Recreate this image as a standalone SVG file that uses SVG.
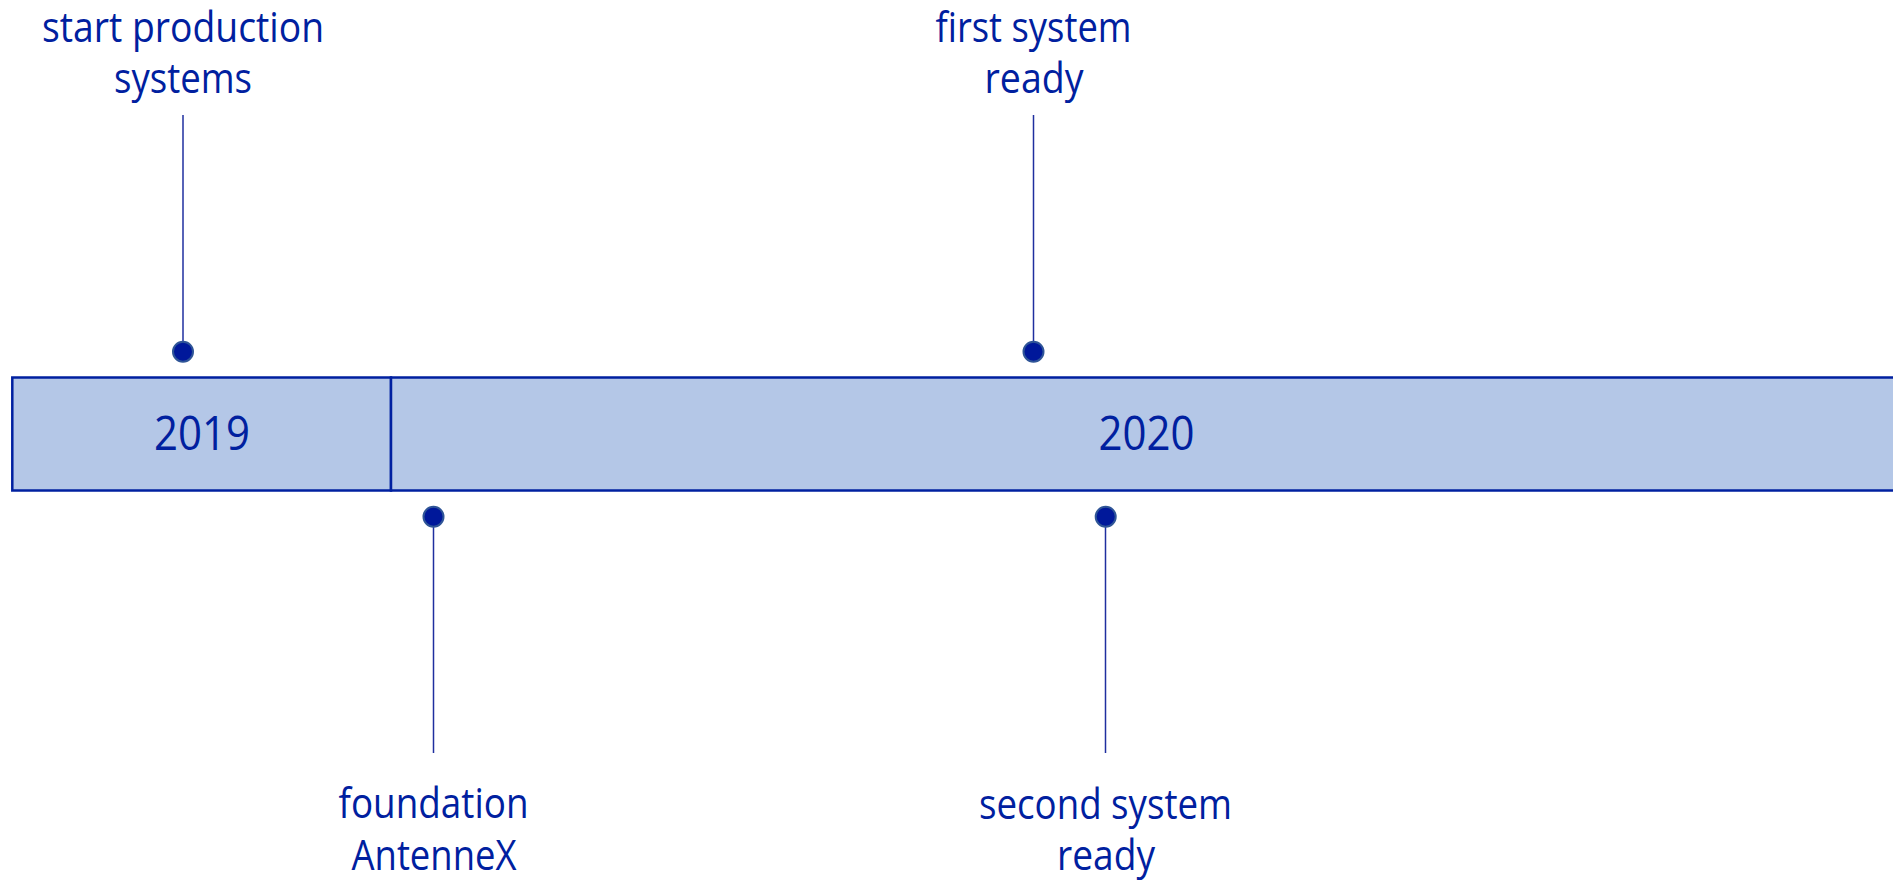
<svg xmlns="http://www.w3.org/2000/svg" width="1893" height="880" viewBox="0 0 1893 880">
  <style>
    .lbl { font-family: "Open Sans", "Noto Sans", sans-serif; font-size: 42px; fill: #00209f; text-anchor: middle; }
    .yr { font-family: "Open Sans", "Noto Sans", sans-serif; font-size: 47px; fill: #00209f; text-anchor: middle; }
    .seg { fill: #b4c7e7; stroke: #0020a0; stroke-width: 2.5; }
    .dot { fill: #00189a; stroke: #2f5597; stroke-width: 2; }
    .conn { stroke: #1f2f9f; stroke-width: 1.5; fill: none; }
  </style>
  <rect width="1893" height="880" fill="#ffffff"/>
  <g id="connectors">
    <line class="conn" x1="183" y1="115" x2="183" y2="342"/>
    <line class="conn" x1="1033.5" y1="115" x2="1033.5" y2="342"/>
    <line class="conn" x1="433.5" y1="527" x2="433.5" y2="753"/>
    <line class="conn" x1="1105.5" y1="527" x2="1105.5" y2="753"/>
  </g>
  <g id="year-2019">
    <rect class="seg" x="12.3" y="377.5" width="378.7" height="113"/>
    <text class="yr" x="202" y="449.5" textLength="96" lengthAdjust="spacingAndGlyphs">2019</text>
  </g>
  <g id="year-2020">
    <rect class="seg" x="391" y="377.5" width="1520" height="113"/>
    <text class="yr" x="1146.5" y="450" textLength="96" lengthAdjust="spacingAndGlyphs">2020</text>
  </g>
  <g id="m-start-production">
    <circle class="dot" cx="183" cy="351.7" r="10"/>
    <text class="lbl" x="183" y="42" textLength="282" lengthAdjust="spacingAndGlyphs">start production</text>
    <text class="lbl" x="183" y="93" textLength="138" lengthAdjust="spacingAndGlyphs">systems</text>
  </g>
  <g id="m-first-system">
    <circle class="dot" cx="1033.5" cy="351.7" r="10"/>
    <text class="lbl" x="1033.5" y="42" textLength="196" lengthAdjust="spacingAndGlyphs">first system</text>
    <text class="lbl" x="1034" y="93" textLength="99" lengthAdjust="spacingAndGlyphs">ready</text>
  </g>
  <g id="m-foundation">
    <circle class="dot" cx="433.5" cy="516.7" r="10"/>
    <text class="lbl" x="433.5" y="818" textLength="190" lengthAdjust="spacingAndGlyphs">foundation</text>
    <text class="lbl" x="434" y="869.5" textLength="165" lengthAdjust="spacingAndGlyphs">AntenneX</text>
  </g>
  <g id="m-second-system">
    <circle class="dot" cx="1105.7" cy="516.7" r="10"/>
    <text class="lbl" x="1105.5" y="819" textLength="253" lengthAdjust="spacingAndGlyphs">second system</text>
    <text class="lbl" x="1106" y="870" textLength="98" lengthAdjust="spacingAndGlyphs">ready</text>
  </g>
</svg>
